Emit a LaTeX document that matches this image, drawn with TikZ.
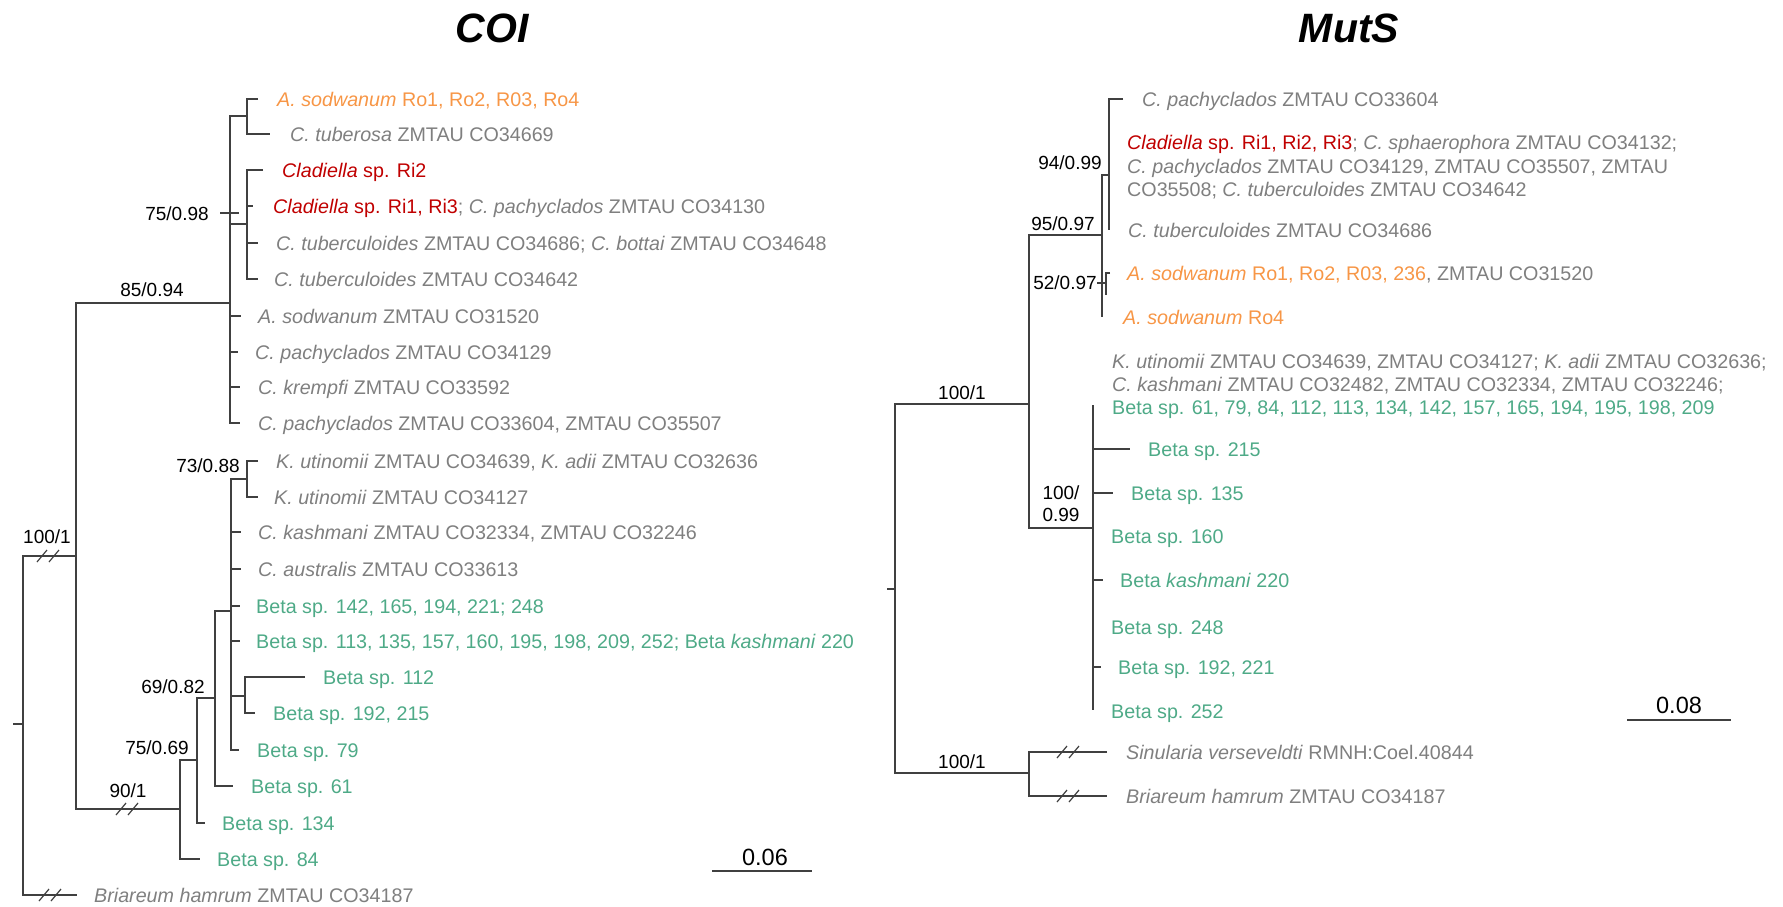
\documentclass[tikz,border=0pt]{standalone}
\usepackage{fontspec}
\setmainfont{Liberation Sans}
\definecolor{lc}{HTML}{404040}
\definecolor{gt}{HTML}{7F7F7F}
\definecolor{org}{HTML}{F79646}
\definecolor{rd}{HTML}{C00000}
\definecolor{gr}{HTML}{4EAA87}
\tikzset{
 br/.style={draw=lc, line width=1.6pt},
 brk/.style={draw=lc, line width=1.2pt},
 lf/.style={anchor=west, inner sep=0pt, text height=14pt, text depth=0pt, text=gt, font=\fontsize{19.7}{23.5}\selectfont},
 sup/.style={inner sep=0pt, text=black, font=\fontsize{19}{22}\selectfont},
 ttl/.style={inner sep=0pt, font=\fontsize{41}{49}\selectfont\bfseries\itshape},
 scl/.style={inner sep=0pt, font=\fontsize{23.5}{28}\selectfont},
 brkmark/.pic={\draw[brk] (-5,6) -- (5,-6);},
}
\begin{document}
\begin{tikzpicture}[x=1pt,y=-1pt]
\useasboundingbox (0,0) rectangle (1783,906);
% ================= COI =================
\node[ttl] (tcoi) at (492,28) {COI};
% internal nodes
\coordinate (nR) at (23,724);
\coordinate (nRt) at (13,724);
\coordinate (nA) at (76,556);
\coordinate (nB) at (230,303);
\coordinate (nB1) at (247,116);
\coordinate (nB2) at (247,224);
\coordinate (nC) at (180,809);
\coordinate (nD) at (197,760);
\coordinate (nE) at (215,698);
\coordinate (nF) at (231,611);
\coordinate (nG) at (247,479);
\coordinate (nH) at (245,696);
% tips
\coordinate (t1) at (258,99);
\coordinate (t2) at (270,134);
\coordinate (t3) at (263,170);
\coordinate (t4) at (253,206);
\coordinate (t5) at (258,243);
\coordinate (t6) at (258,279);
\coordinate (t7) at (241,316);
\coordinate (t8) at (238,352);
\coordinate (t9) at (240,387);
\coordinate (t10) at (240,423);
\coordinate (t11) at (258,461);
\coordinate (t12) at (258,497);
\coordinate (t13) at (241,532);
\coordinate (t14) at (241,569);
\coordinate (t15) at (240,606);
\coordinate (t16) at (240,641);
\coordinate (t17) at (305,677);
\coordinate (t18) at (255,713);
\coordinate (t19) at (239,750);
\coordinate (t20) at (233,786);
\coordinate (t21) at (205,823);
\coordinate (t22) at (200,859);
\coordinate (tB) at (77,895);
% branches
\draw[br] (nRt) -- (nR);
\draw[br] (nA) -| (nR) |- (tB);
\draw[br] (nB) -| (nA) |- (nC);
\draw[br] (nB1) -| (nB) |- (t10);
\draw[br] (nB) |- (nB2);
\draw[br] (nB) |- (t7);
\draw[br] (nB) |- (t8);
\draw[br] (nB) |- (t9);
\draw[br] (t1) -| (nB1) |- (t2);
\draw[br] (t3) -| (nB2) |- (t6);
\draw[br] (nB2) |- (t4);
\draw[br] (nB2) |- (t5);
\draw[br] (nC) |- (nD);
\draw[br] (nC) |- (t22);
\draw[br] (nD) |- (nE);
\draw[br] (nD) |- (t21);
\draw[br] (nE) |- (nF);
\draw[br] (nE) |- (t20);
\draw[br] (nG) -| (nF) |- (t19);
\draw[br] (nF) |- (t13);
\draw[br] (nF) |- (t14);
\draw[br] (nF) |- (t15);
\draw[br] (nF) |- (t16);
\draw[br] (nF) |- (nH);
\draw[br] (t11) -| (nG) |- (t12);
\draw[br] (t17) -| (nH) |- (t18);
% break marks
\pic at (42,556) {brkmark}; \pic at (54,556) {brkmark};
\pic at (121,809) {brkmark}; \pic at (133,809) {brkmark};
\pic at (44,895) {brkmark}; \pic at (56,895) {brkmark};
% leaf labels
\node[lf,text=org] (c1) at (277,99) {\textit{A. sodwanum} Ro1, Ro2, R03, Ro4};
\node[lf] (c2) at (290,134) {\textit{C. tuberosa} ZMTAU CO34669};
\node[lf,text=rd] (c3) at (282,170) {\textit{Cladiella} sp. Ri2};
\node[lf] (c4) at (273,206) {\textcolor{rd}{\textit{Cladiella} sp. Ri1, Ri3}; \textit{C. pachyclados} ZMTAU CO34130};
\node[lf] (c5) at (276,243) {\textit{C. tuberculoides} ZMTAU CO34686; \textit{C. bottai} ZMTAU CO34648};
\node[lf] (c6) at (274,279) {\textit{C. tuberculoides} ZMTAU CO34642};
\node[lf] (c7) at (258,316) {\textit{A. sodwanum} ZMTAU CO31520};
\node[lf] (c8) at (255,352) {\textit{C. pachyclados} ZMTAU CO34129};
\node[lf] (c9) at (258,387) {\textit{C. krempfi} ZMTAU CO33592};
\node[lf] (c10) at (258,423) {\textit{C. pachyclados} ZMTAU CO33604, ZMTAU CO35507};
\node[lf] (c11) at (276,461) {\textit{K. utinomii} ZMTAU CO34639, \textit{K. adii} ZMTAU CO32636};
\node[lf] (c12) at (274,497) {\textit{K. utinomii} ZMTAU CO34127};
\node[lf] (c13) at (258,532) {\textit{C. kashmani} ZMTAU CO32334, ZMTAU CO32246};
\node[lf] (c14) at (258,569) {\textit{C. australis} ZMTAU CO33613};
\node[lf,text=gr] (c15) at (256,606) {Beta sp. 142, 165, 194, 221; 248};
\node[lf,text=gr] (c16) at (256,641) {Beta sp. 113, 135, 157, 160, 195, 198, 209, 252; Beta \textit{kashmani} 220};
\node[lf,text=gr] (c17) at (323,677) {Beta sp. 112};
\node[lf,text=gr] (c18) at (273,713) {Beta sp. 192, 215};
\node[lf,text=gr] (c19) at (257,750) {Beta sp. 79};
\node[lf,text=gr] (c20) at (251,786) {Beta sp. 61};
\node[lf,text=gr] (c21) at (222,823) {Beta sp. 134};
\node[lf,text=gr] (c22) at (217,859) {Beta sp. 84};
\node[lf] (cB) at (94,895) {\textit{Briareum hamrum} ZMTAU CO34187};
% support labels
\node[sup] (s1) at (177,214) {75/0.98};
\coordinate (s1a) at (220,213);
\coordinate (s1b) at (239,213);
\draw[br] (s1a) -- (s1b);
\node[sup] (s2) at (152,290) {85/0.94};
\node[sup] (s3) at (208,466) {73/0.88};
\node[sup] (s4) at (47,537) {100/1};
\node[sup] (s5) at (173,687) {69/0.82};
\node[sup] (s6) at (157,748) {75/0.69};
\node[sup] (s7) at (128,791) {90/1};
% scale bar
\node[scl] (sc1) at (765,857) {0.06};
\coordinate (sc1a) at (712,871);
\coordinate (sc1b) at (812,871);
\draw[br] (sc1a) -- (sc1b);
% ================= MutS =================
\node[ttl] (tmut) at (1349,28) {MutS};
\coordinate (mR) at (895,589);
\coordinate (mRt) at (887,589);
\coordinate (mA) at (1029,404);
\coordinate (mB) at (1102,235);
\coordinate (mC) at (1109,175);
\coordinate (mD) at (1106,283);
\coordinate (mK) at (1093,528);
\coordinate (mS) at (1029,773);
\coordinate (u1) at (1123,99);
\coordinate (u2) at (1109,230);
\coordinate (u3) at (1110,273);
\coordinate (u3b) at (1106,295);
\coordinate (u4) at (1102,317);
\coordinate (k0) at (1093,405);
\coordinate (k1) at (1130,449);
\coordinate (k2) at (1113,493);
\coordinate (k3) at (1103,580);
\coordinate (k4) at (1101,667);
\coordinate (k5) at (1093,710);
\coordinate (o1) at (1107,752);
\coordinate (o2) at (1107,796);
\draw[br] (mRt) -- (mR);
\draw[br] (mA) -| (mR) |- (mS);
\draw[br] (mB) -| (mA) |- (mK);
\draw[br] (mC) -| (mB) -- (u4);
\draw[br] (mB) |- (mD);
\draw[br] (u1) -| (mC) -- (u2);
\draw[br] (u3) -| (u3b);
\draw[br] (k0) -- (k5);
\draw[br] (mK) |- (k1);
\draw[br] (mK) |- (k2);
\draw[br] (mK) |- (k3);
\draw[br] (mK) |- (k4);
\draw[br] (o1) -| (mS) |- (o2);
\pic at (1062,752) {brkmark}; \pic at (1074,752) {brkmark};
\pic at (1062,796) {brkmark}; \pic at (1074,796) {brkmark};
% leaf labels
\node[lf] (m1) at (1142,99) {\textit{C. pachyclados} ZMTAU CO33604};
\node[lf] (m2a) at (1127,142) {\textcolor{rd}{\textit{Cladiella} sp. Ri1, Ri2, Ri3}; \textit{C. sphaerophora} ZMTAU CO34132;};
\node[lf] (m2b) at (1127,166) {\textit{C. pachyclados} ZMTAU CO34129, ZMTAU CO35507, ZMTAU};
\node[lf] (m2c) at (1127,189) {CO35508; \textit{C. tuberculoides} ZMTAU CO34642};
\node[lf] (m3) at (1128,230) {\textit{C. tuberculoides} ZMTAU CO34686};
\node[lf] (m4) at (1127,273) {\textcolor{org}{\textit{A. sodwanum} Ro1, Ro2, R03, 236}, ZMTAU CO31520};
\node[lf,text=org] (m5) at (1123,317) {\textit{A. sodwanum} Ro4};
\node[lf] (m6a) at (1112,361) {\textit{K. utinomii} ZMTAU CO34639, ZMTAU CO34127; \textit{K. adii} ZMTAU CO32636;};
\node[lf] (m6b) at (1112,384) {\textit{C. kashmani} ZMTAU CO32482, ZMTAU CO32334, ZMTAU CO32246;};
\node[lf,text=gr] (m6c) at (1112,407) {Beta sp. 61, 79, 84, 112, 113, 134, 142, 157, 165, 194, 195, 198, 209};
\node[lf,text=gr] (m7) at (1148,449) {Beta sp. 215};
\node[lf,text=gr] (m8) at (1131,493) {Beta sp. 135};
\node[lf,text=gr] (m9) at (1111,536) {Beta sp. 160};
\node[lf,text=gr] (m10) at (1120,580) {Beta \textit{kashmani} 220};
\node[lf,text=gr] (m11) at (1111,627) {Beta sp. 248};
\node[lf,text=gr] (m12) at (1118,667) {Beta sp. 192, 221};
\node[lf,text=gr] (m13) at (1111,711) {Beta sp. 252};
\node[lf] (m14) at (1126,752) {\textit{Sinularia verseveldti} RMNH:Coel.40844};
\node[lf] (m15) at (1126,796) {\textit{Briareum hamrum} ZMTAU CO34187};
% support labels
\node[sup] (ms1) at (1070,163) {94/0.99};
\node[sup] (ms2) at (1063,224) {95/0.97};
\node[sup] (ms3) at (1065,283) {52/0.97};
\coordinate (ms3a) at (1097,283);
\draw[br] (ms3a) -- (mD);
\node[sup] (ms4) at (962,393) {100/1};
\node[sup,align=center] (ms5) at (1061,504) {100/\\0.99};
\node[sup] (ms6) at (962,762) {100/1};
% scale bar
\node[scl] (sc2) at (1679,705) {0.08};
\coordinate (sc2a) at (1627,720);
\coordinate (sc2b) at (1731,720);
\draw[br] (sc2a) -- (sc2b);
\end{tikzpicture}
\end{document}
